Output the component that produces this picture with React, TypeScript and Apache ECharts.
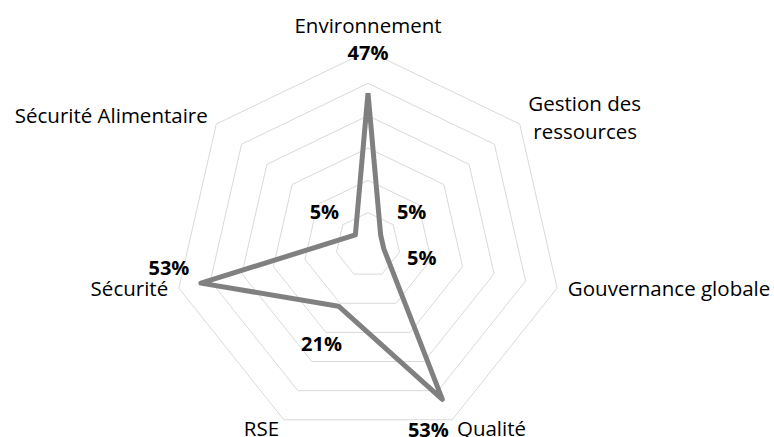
import React, { useEffect, useRef } from 'react';
import * as echarts from 'echarts';

// categories listed clockwise from the top
const categories = [
  'Environnement',
  'Gestion des ressources',
  'Gouvernance globale',
  'Qualité',
  'RSE',
  'Sécurité',
  'Sécurité Alimentaire',
];
const values = [47, 5, 5, 53, 21, 53, 5];
const maxValue = 60;
const splitCount = 6;

// label placement offsets (px) for each category's data label
const labelOffsets = [
  [0, -41],
  [31, -23],
  [38, 9],
  [-14, 30],
  [-17, 37],
  [-32, -16],
  [-31, -23],
];
// rich style key used for each category's axis name
const nameStyles = ['t', 'g', 's', 'b', 'b', 's', 's'];

export default function App() {
  const ref = useRef<HTMLDivElement>(null);
  useEffect(() => {
    const chart = echarts.init(ref.current!, null, { renderer: 'svg' });
    const font = '"Open Sans", sans-serif';
    const fs = 20.5;
    // ECharts lays indicators counter-clockwise; reorder to get clockwise layout
    const order = categories.map((_, k) => (k === 0 ? 0 : categories.length - k));
    const indCats = order.map((k) => categories[k]);
    const indVals = order.map((k) => values[k]);
    const labelItems = order.map((k, i) => ({
      value: indVals.map((x, j) => (j === i ? x : 0)),
      symbol: 'circle',
      symbolSize: 1,
      itemStyle: { color: 'rgba(0,0,0,0)' },
      lineStyle: { opacity: 0, width: 0 },
      label: {
        show: true,
        position: 'inside',
        offset: labelOffsets[k],
        color: '#000',
        fontFamily: font,
        fontSize: 20,
        fontWeight: 'bold',
        formatter: (p: any) => {
          const val = Array.isArray(p.value)
            ? p.dimensionIndex != null
              ? p.value[p.dimensionIndex]
              : 0
            : p.value;
          return val > 0 ? `${val}%` : '';
        },
      },
    }));
    const base = { fontFamily: font, fontSize: fs, color: '#000' };
    chart.setOption({
      animation: false,
      radar: {
        center: [368, 245],
        radius: 194,
        shape: 'polygon',
        splitNumber: splitCount,
        startAngle: 90,
        nameGap: 11,
        indicator: indCats.map((name) => ({ name, max: maxValue, min: 0 })),
        axisName: {
          ...base,
          formatter: (name: string) => {
            const st = nameStyles[categories.indexOf(name)];
            if (st === 'g') {
              const parts = name.split(' ');
              return `{g1|${parts.slice(0, 2).join(' ')}}\n{g2|${parts.slice(2).join(' ')}}`;
            }
            return `{${st}|${name}}`;
          },
          rich: {
            t: { ...base, padding: [0, 0, 5, 0] },
            s: { ...base, padding: [0, 0, 5, 0] },
            b: { ...base, padding: [0, 0, 3, 0] },
            g1: { ...base, lineHeight: 28 },
            g2: { ...base, lineHeight: 28, padding: [0, 0, 0, 5] },
          },
        },
        axisLine: { show: false },
        axisTick: { show: false },
        axisLabel: { show: false },
        splitArea: { show: false },
        splitLine: { lineStyle: { color: '#d9d9d9', width: 1 } },
      },
      series: [
        {
          type: 'radar',
          silent: true,
          symbol: 'none',
          lineStyle: { color: '#808080', width: 5, join: 'round' },
          data: [{ value: indVals }],
        },
        {
          type: 'radar',
          silent: true,
          data: labelItems,
        },
      ],
    });
    return () => chart.dispose();
  }, []);
  return (
    <div
      ref={ref}
      style={{ position: 'absolute', left: 0, top: 0, width: 774, height: 437 }}
    />
  );
}
